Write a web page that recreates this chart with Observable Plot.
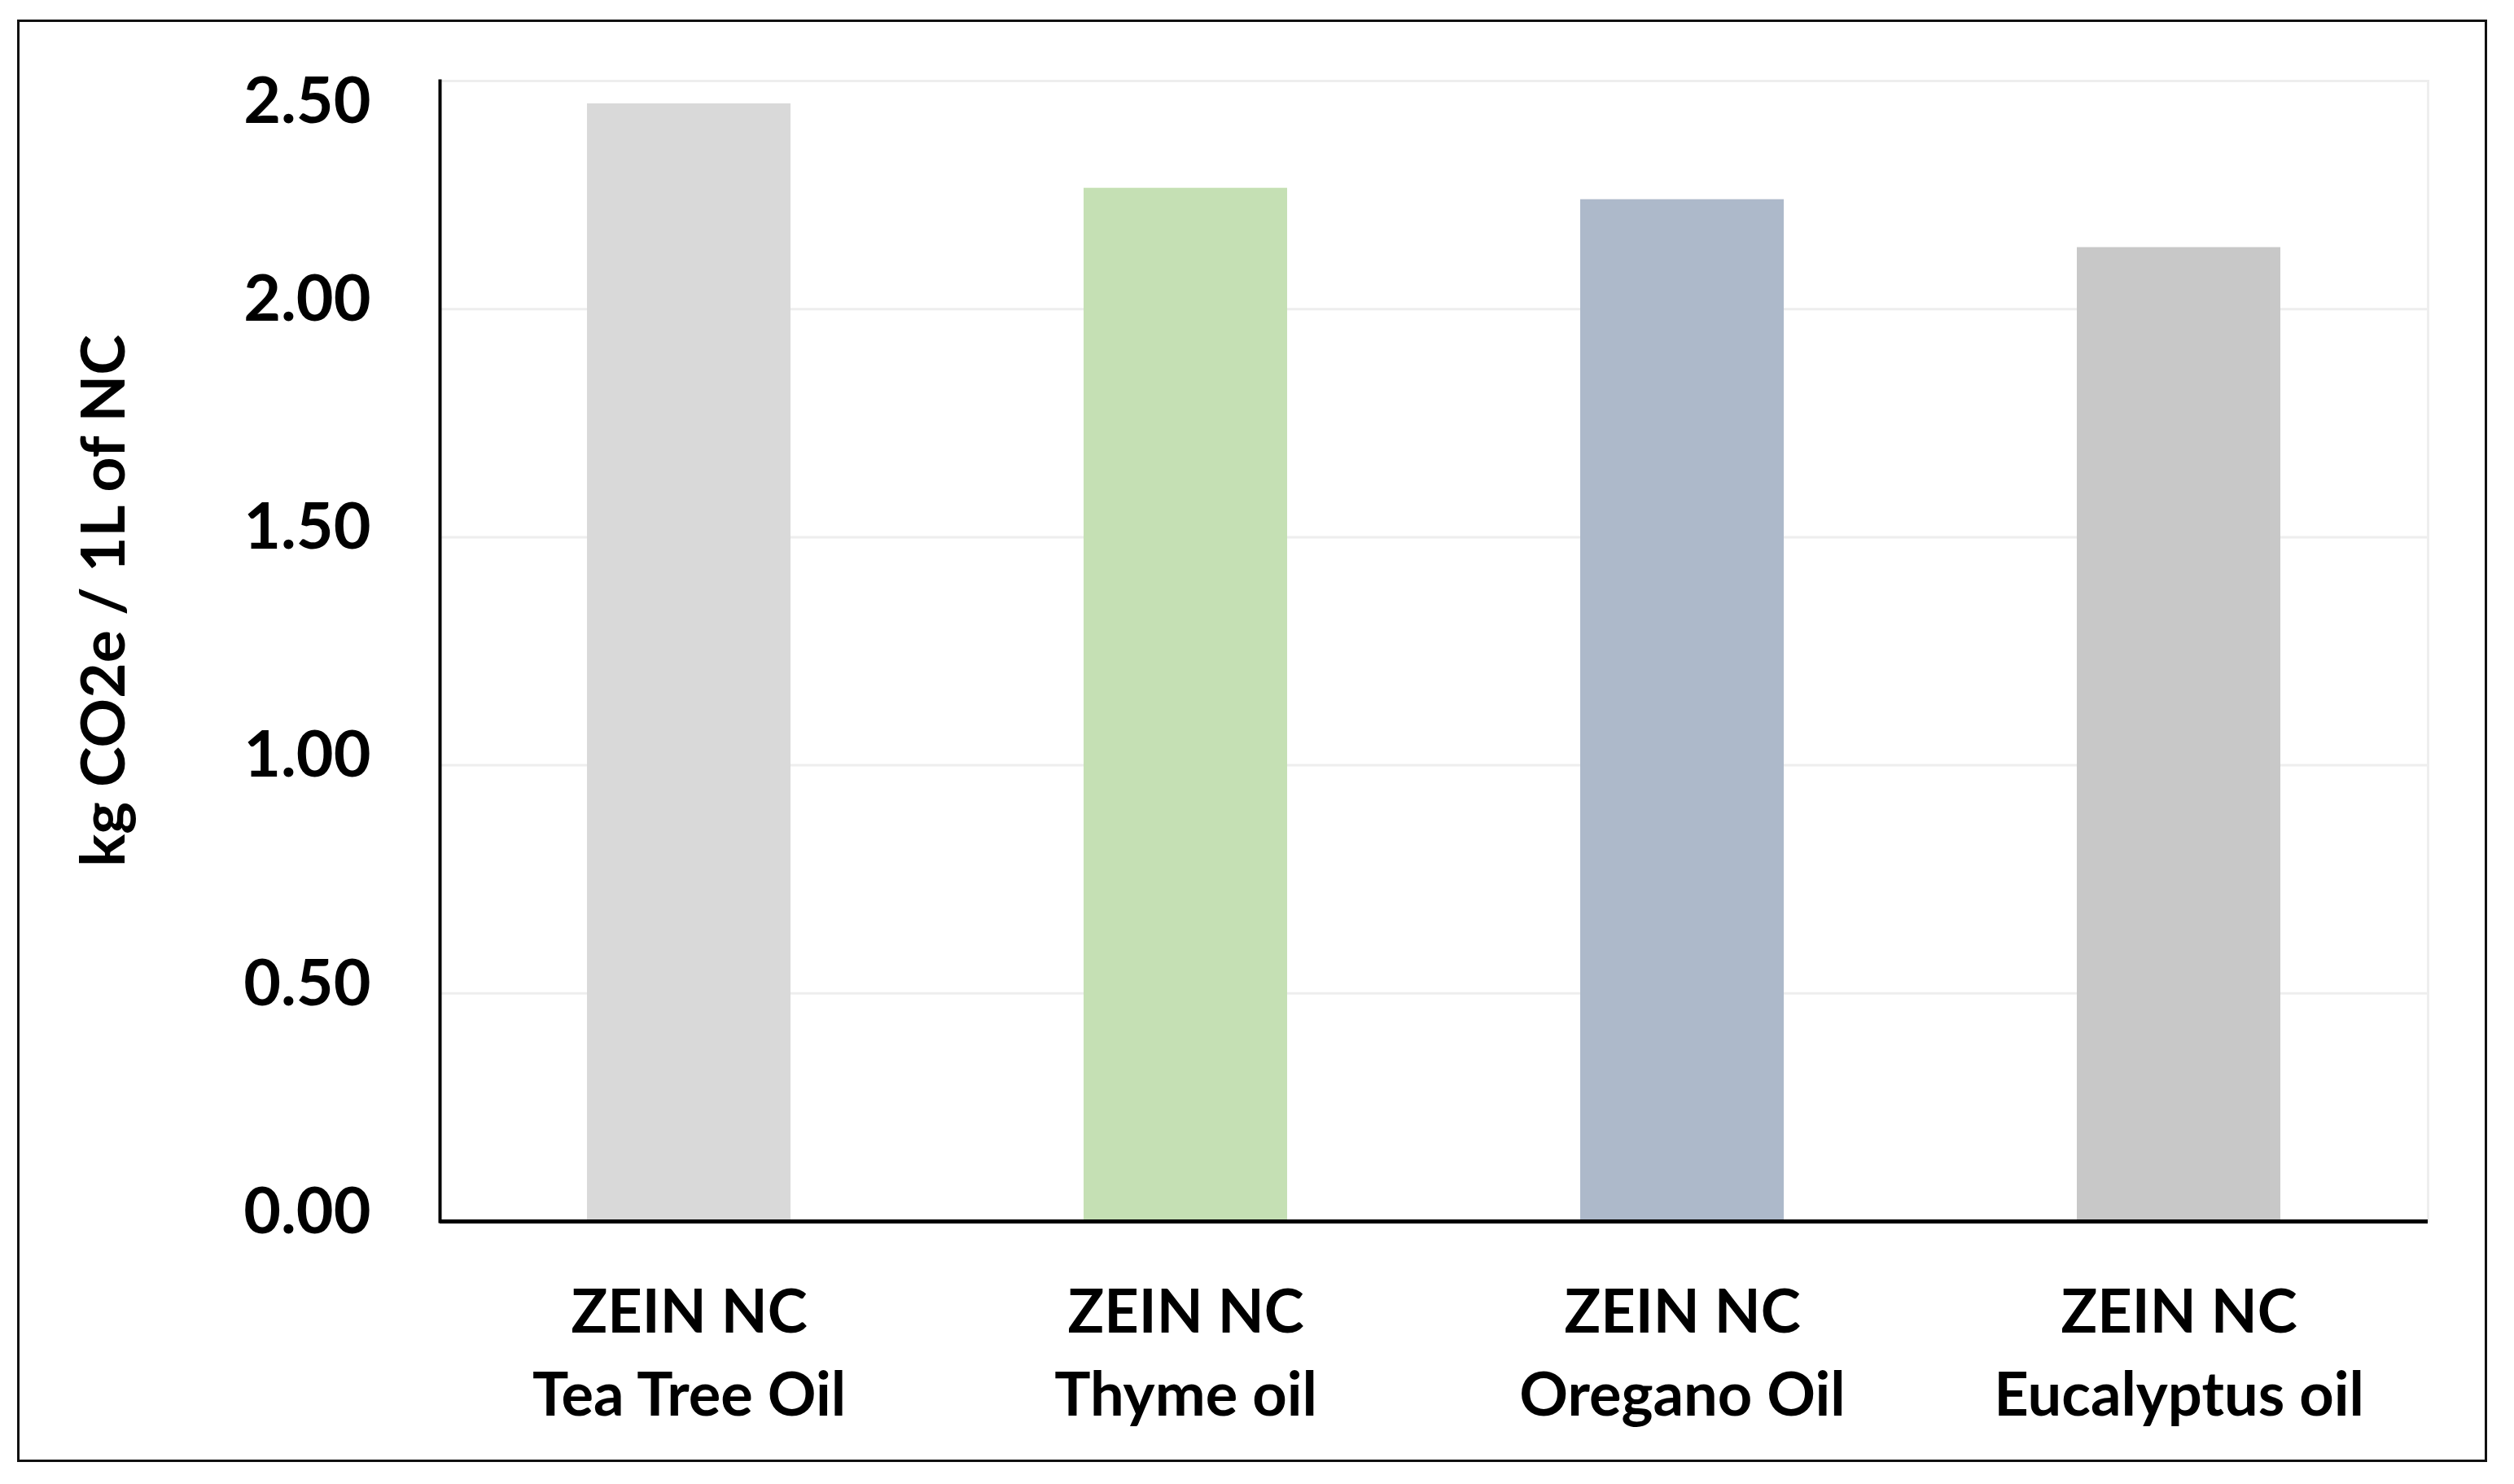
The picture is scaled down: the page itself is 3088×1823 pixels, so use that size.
<!DOCTYPE html>
<html>
<head>
<meta charset="utf-8">
<script src="https://cdn.jsdelivr.net/npm/d3@7"></script>
<script src="https://cdn.jsdelivr.net/npm/@observablehq/plot@0.6"></script>
<style>
  html, body { margin: 0; padding: 0; background: white; }
  #wrap { position: relative; width: 3088px; height: 1823px; }
  #border { position: absolute; left: 21px; top: 24px; width: 3034px; height: 1772px;
            border: 3px solid #111; box-sizing: border-box; pointer-events: none; }
</style>
</head>
<body>
<div id="wrap"><div id="chart"></div><div id="border"></div></div>
<script>
const labelTop = ["ZEIN NC", "ZEIN NC", "ZEIN NC", "ZEIN NC"];
const labelBottom = ["Tea Tree Oil", "Thyme oil", "Oregano Oil", "Eucalyptus oil"];
const values = [2.45, 2.265, 2.24, 2.135];
const colors = ["#d9d9d9", "#c5e0b4", "#adb9ca", "#c8c8c8"];
const yTicks = [0, 0.5, 1, 1.5, 2, 2.5];
const yTitle = "kg CO2e / 1L of NC";

const data = labelTop.map((t, i) => ({
  name: t + "\n" + labelBottom[i],
  value: values[i],
  color: colors[i]
}));

const chart = Plot.plot({
  width: 3088,
  height: 1823,
  marginLeft: 540,
  marginRight: 106,
  marginTop: 99,
  marginBottom: 323,
  style: { fontFamily: "Lato, 'Open Sans', sans-serif", background: "white", color: "black" },
  x: { domain: data.map(d => d.name), paddingInner: 0.59, paddingOuter: 0.295 },
  y: { domain: [0, 2.5] },
  color: { type: "identity" },
  marks: [
    Plot.gridY(yTicks, { stroke: "#eeeeee", strokeOpacity: 1, strokeWidth: 3 }),
    Plot.frame({ stroke: "#eeeeee", strokeWidth: 3 }),
    Plot.barY(data, { x: "name", y: "value", fill: "color" }),
    Plot.frame({ anchor: "left", stroke: "black", strokeWidth: 4 }),
    Plot.ruleY([0], { stroke: "black", strokeWidth: 5 }),
    Plot.axisY(yTicks.filter(d => d < 2.5), {
      tickSize: 0, tickPadding: 85, fontSize: 79, fontWeight: 700,
      tickFormat: d => d.toFixed(2), dy: -11, label: null
    }),
    Plot.axisY([2.5], {
      tickSize: 0, tickPadding: 85, fontSize: 79, fontWeight: 700,
      tickFormat: d => d.toFixed(2), dy: 26, label: null
    }),
    Plot.axisX({
      tickSize: 0, tickPadding: 63, fontSize: 74, fontWeight: 700,
      lineHeight: 1.39, label: null
    }),
    Plot.text([yTitle], {
      text: d => d, frameAnchor: "left", rotate: -90, textAnchor: "middle",
      dx: -412, dy: -62, fontSize: 75, fontWeight: 700, fill: "black"
    })
  ]
});
document.getElementById("chart").appendChild(chart);
</script>
</body>
</html>
